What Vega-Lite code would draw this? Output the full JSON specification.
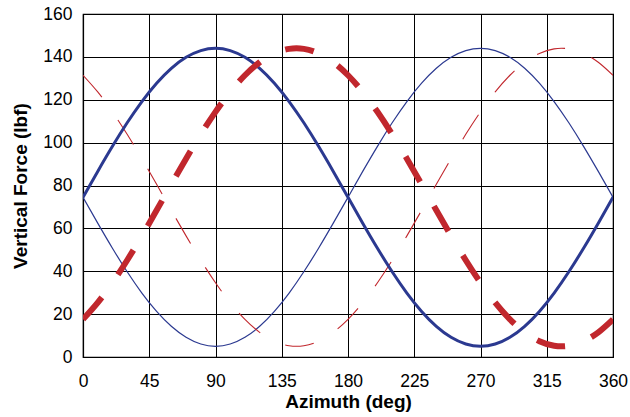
{
  "$schema": "https://vega.github.io/schema/vega-lite/v6.json",
  "width": 530,
  "height": 343,
  "autosize": "none",
  "padding": {"left": 83, "top": 14, "right": 17, "bottom": 60},
  "background": "white",
  "config": {
    "view": {"stroke": "black", "strokeWidth": 1.2},
    "font": "Liberation Sans",
    "axis": {
      "labelFont": "Liberation Sans",
      "titleFont": "Liberation Sans",
      "labelFontSize": 17.5,
      "titleFontSize": 19,
      "titleFontWeight": "bold",
      "labelColor": "black",
      "titleColor": "black",
      "grid": true,
      "gridColor": "black",
      "gridOpacity": 1,
      "gridWidth": 1,
      "domainColor": "black",
      "domainWidth": 1.2,
      "ticks": false
    }
  },
  "data": {
    "values": [
      {"az": 0, "b1": 74.5, "b2": 74.5, "r1": 17.57, "r2": 131.43},
      {"az": 10, "b1": 86.57, "b2": 62.43, "r1": 25.36, "r2": 123.64},
      {"az": 20, "b1": 98.27, "b2": 50.73, "r1": 34.64, "r2": 114.36},
      {"az": 30, "b1": 109.25, "b2": 39.75, "r1": 45.13, "r2": 103.87},
      {"az": 40, "b1": 119.17, "b2": 29.83, "r1": 56.51, "r2": 92.49},
      {"az": 50, "b1": 127.74, "b2": 21.26, "r1": 68.44, "r2": 80.56},
      {"az": 60, "b1": 134.69, "b2": 14.31, "r1": 80.56, "r2": 68.44},
      {"az": 70, "b1": 139.81, "b2": 9.19, "r1": 92.49, "r2": 56.51},
      {"az": 80, "b1": 142.94, "b2": 6.06, "r1": 103.87, "r2": 45.13},
      {"az": 90, "b1": 144.0, "b2": 5.0, "r1": 114.36, "r2": 34.64},
      {"az": 100, "b1": 142.94, "b2": 6.06, "r1": 123.64, "r2": 25.36},
      {"az": 110, "b1": 139.81, "b2": 9.19, "r1": 131.43, "r2": 17.57},
      {"az": 120, "b1": 134.69, "b2": 14.31, "r1": 137.49, "r2": 11.51},
      {"az": 130, "b1": 127.74, "b2": 21.26, "r1": 141.63, "r2": 7.37},
      {"az": 140, "b1": 119.17, "b2": 29.83, "r1": 143.74, "r2": 5.26},
      {"az": 150, "b1": 109.25, "b2": 39.75, "r1": 143.74, "r2": 5.26},
      {"az": 160, "b1": 98.27, "b2": 50.73, "r1": 141.63, "r2": 7.37},
      {"az": 170, "b1": 86.57, "b2": 62.43, "r1": 137.49, "r2": 11.51},
      {"az": 180, "b1": 74.5, "b2": 74.5, "r1": 131.43, "r2": 17.57},
      {"az": 190, "b1": 62.43, "b2": 86.57, "r1": 123.64, "r2": 25.36},
      {"az": 200, "b1": 50.73, "b2": 98.27, "r1": 114.36, "r2": 34.64},
      {"az": 210, "b1": 39.75, "b2": 109.25, "r1": 103.87, "r2": 45.13},
      {"az": 220, "b1": 29.83, "b2": 119.17, "r1": 92.49, "r2": 56.51},
      {"az": 230, "b1": 21.26, "b2": 127.74, "r1": 80.56, "r2": 68.44},
      {"az": 240, "b1": 14.31, "b2": 134.69, "r1": 68.44, "r2": 80.56},
      {"az": 250, "b1": 9.19, "b2": 139.81, "r1": 56.51, "r2": 92.49},
      {"az": 260, "b1": 6.06, "b2": 142.94, "r1": 45.13, "r2": 103.87},
      {"az": 270, "b1": 5.0, "b2": 144.0, "r1": 34.64, "r2": 114.36},
      {"az": 280, "b1": 6.06, "b2": 142.94, "r1": 25.36, "r2": 123.64},
      {"az": 290, "b1": 9.19, "b2": 139.81, "r1": 17.57, "r2": 131.43},
      {"az": 300, "b1": 14.31, "b2": 134.69, "r1": 11.51, "r2": 137.49},
      {"az": 310, "b1": 21.26, "b2": 127.74, "r1": 7.37, "r2": 141.63},
      {"az": 320, "b1": 29.83, "b2": 119.17, "r1": 5.26, "r2": 143.74},
      {"az": 330, "b1": 39.75, "b2": 109.25, "r1": 5.26, "r2": 143.74},
      {"az": 340, "b1": 50.73, "b2": 98.27, "r1": 7.37, "r2": 141.63},
      {"az": 350, "b1": 62.43, "b2": 86.57, "r1": 11.51, "r2": 137.49},
      {"az": 360, "b1": 74.5, "b2": 74.5, "r1": 17.57, "r2": 131.43}
    ]
  },
  "encoding": {
    "x": {
      "field": "az",
      "type": "quantitative",
      "scale": {"domain": [0, 360], "nice": false},
      "axis": {"values": [0, 45, 90, 135, 180, 225, 270, 315, 360], "title": "Azimuth (deg)", "labelPadding": 15, "titlePadding": 3, "labelFlush": false}
    }
  },
  "layer": [
    {
      "mark": {"type": "line", "color": "#2B3990", "strokeWidth": 1.2, "interpolate": "natural", "clip": true},
      "encoding": {
        "y": {
          "field": "b2",
          "type": "quantitative",
          "scale": {"domain": [0, 160], "nice": false},
          "axis": {"values": [0, 20, 40, 60, 80, 100, 120, 140, 160], "title": "Vertical Force (lbf)", "labelPadding": 11, "titlePadding": 12}
        }
      }
    },
    {
      "mark": {"type": "line", "color": "#C1272D", "strokeWidth": 1.1, "strokeDash": [29, 28], "interpolate": "natural", "clip": true},
      "encoding": {"y": {"field": "r2", "type": "quantitative"}}
    },
    {
      "mark": {"type": "line", "color": "#2B3990", "strokeWidth": 3, "interpolate": "natural", "clip": true},
      "encoding": {"y": {"field": "b1", "type": "quantitative"}}
    },
    {
      "mark": {"type": "line", "color": "#C1272D", "strokeWidth": 6, "strokeDash": [29, 28], "interpolate": "natural", "clip": true},
      "encoding": {"y": {"field": "r1", "type": "quantitative"}}
    }
  ]
}
